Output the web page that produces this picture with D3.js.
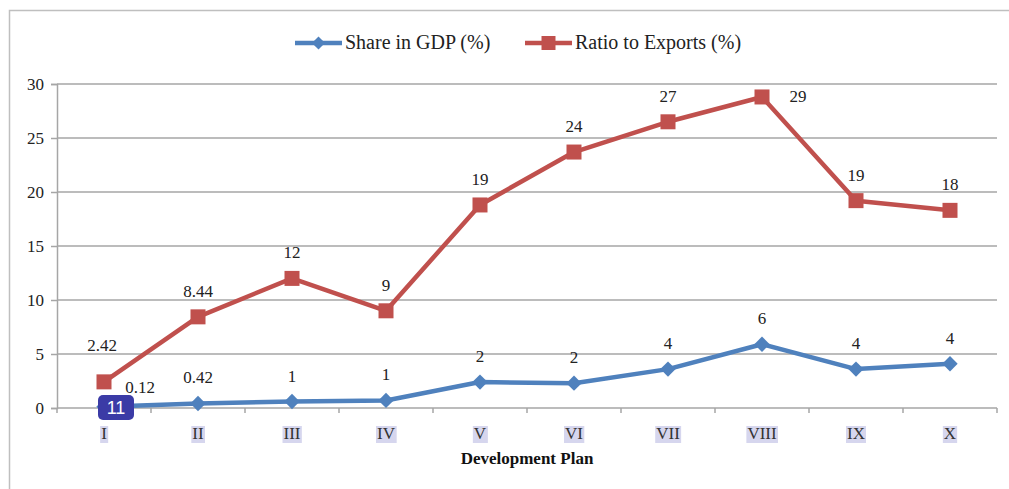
<!DOCTYPE html>
<html>
<head>
<meta charset="utf-8">
<script src="https://cdn.jsdelivr.net/npm/d3@7"></script>
<style>
  body { margin: 0; background: #fff; }
  svg text { font-family: "Liberation Serif", "Times New Roman", Times, "DejaVu Serif", serif !important; fill: #222; }
  svg text.badge { font-family: "Liberation Sans", Arial, sans-serif !important; fill: #fff; }
</style>
</head>
<body>
<svg id="viz" width="1009" height="489"></svg>
<script>
// Development plans and their two series
const plans = ["I", "II", "III", "IV", "V", "VI", "VII", "VIII", "IX", "X"];
const gdpShare = [0.12, 0.42, 0.6, 0.7, 2.4, 2.3, 3.6, 5.9, 3.6, 4.1];
const exportRatio = [2.42, 8.44, 12, 9, 18.8, 23.7, 26.5, 28.8, 19.2, 18.3];
const gdpLabels = ["0.12", "0.42", "1", "1", "2", "2", "4", "6", "4", "4"];
const exportLabels = ["2.42", "8.44", "12", "9", "19", "24", "27", "29", "19", "18"];
const yTicks = [0, 5, 10, 15, 20, 25, 30];

var svg = d3.select("#viz");
var width = +svg.attr("width");
var height = +svg.attr("height");
var margin = {left: 57, right: 12, top: 84, bottom: 81};

var blue = "#4f81bd", red = "#c0504d", grid = "#a6a6a6";

// outer frame (top and left edges visible)
svg.append("path")
    .attr("d", `M9.5,${height} V10.5 H${width}`)
    .attr("fill", "none")
    .attr("stroke", "#bfbfbf")
    .attr("stroke-width", 1.5);

var x = d3.scaleBand()
    .domain(plans)
    .range([margin.left, width - margin.right]);

var y = d3.scaleLinear()
    .domain([0, 30])
    .range([height - margin.bottom, margin.top]);

// gridlines
svg.append("g")
    .selectAll("line")
    .data(yTicks.filter(d => d > 0))
    .enter()
    .append("line")
    .attr("x1", margin.left)
    .attr("x2", width - margin.right)
    .attr("y1", d => y(d))
    .attr("y2", d => y(d))
    .attr("stroke", grid)
    .attr("stroke-width", 1.5);

// y axis
var yAxis = svg.append("g")
    .attr("transform", `translate(${margin.left},0)`)
    .call(d3.axisLeft(y).tickValues(yTicks).tickSize(6).tickPadding(7));
yAxis.attr("font-family", null);
yAxis.select(".domain").attr("stroke", grid).attr("stroke-width", 1.5);
yAxis.selectAll(".tick line").attr("stroke", grid).attr("stroke-width", 1.5);
yAxis.selectAll(".tick text")
    .attr("font-size", 17)
    .attr("fill", "#222");

// x axis with ticks on band boundaries
var bounds = plans.map(p => x(p)).concat([x(plans[plans.length - 1]) + x.bandwidth()]);
var xg = svg.append("g");
xg.append("line")
    .attr("x1", margin.left).attr("x2", width - margin.right)
    .attr("y1", y(0)).attr("y2", y(0))
    .attr("stroke", grid).attr("stroke-width", 1.5);
xg.selectAll("line.tick")
    .data(bounds)
    .enter()
    .append("line")
    .attr("class", "tick")
    .attr("x1", d => d).attr("x2", d => d)
    .attr("y1", y(0)).attr("y2", y(0) + 5)
    .attr("stroke", grid).attr("stroke-width", 1.5);

var xl = xg.selectAll("g.xlab")
    .data(plans)
    .enter()
    .append("g")
    .attr("class", "xlab")
    .attr("transform", d => `translate(${x(d) + x.bandwidth() / 2},${y(0) + 31})`);
xl.append("text")
    .attr("text-anchor", "middle")
    .attr("font-size", 17)
    .style("fill", "#333")
    .text(d => d)
    .each(function () {
        var b = this.getBBox();
        d3.select(this.parentNode).insert("rect", "text")
            .attr("x", b.x - 1).attr("y", b.y + 2)
            .attr("width", b.width + 2).attr("height", b.height - 2)
            .attr("fill", "#d6d6ee");
    });

svg.append("text")
    .attr("x", (margin.left + width - margin.right) / 2)
    .attr("y", 464)
    .attr("text-anchor", "middle")
    .attr("font-size", 17)
    .attr("font-weight", "bold")
    .style("fill", "#111")
    .text("Development Plan");

var line = d3.line()
    .x((d, i) => x(plans[i]) + x.bandwidth() / 2)
    .y(d => y(d));

// export ratio series
svg.append("path")
    .datum(exportRatio)
    .attr("d", line)
    .attr("fill", "none")
    .attr("stroke", red)
    .attr("stroke-width", 4.5)
    .attr("stroke-linejoin", "round");
svg.append("g")
    .selectAll("rect")
    .data(exportRatio)
    .enter()
    .append("rect")
    .attr("x", (d, i) => x(plans[i]) + x.bandwidth() / 2 - 7.5)
    .attr("y", d => y(d) - 7.5)
    .attr("width", 15).attr("height", 15)
    .attr("fill", red);

// gdp share series
svg.append("path")
    .datum(gdpShare)
    .attr("d", line)
    .attr("fill", "none")
    .attr("stroke", blue)
    .attr("stroke-width", 4.5)
    .attr("stroke-linejoin", "round");
svg.append("g")
    .selectAll("path")
    .data(gdpShare)
    .enter()
    .append("path")
    .attr("d", d3.symbol(d3.symbolDiamond2, 150))
    .attr("transform", (d, i) => `translate(${x(plans[i]) + x.bandwidth() / 2},${y(d)})`)
    .attr("fill", blue);

// data labels: default above the point, a few nudged
function labelPos(series, i, kind) {
    var cx = x(plans[i]) + x.bandwidth() / 2, cy = y(series[i]);
    if (kind === "exp" && i === 0) return [cx - 2, cy - 31];
    if (kind === "exp" && i === 7) return [cx + 36, cy + 5];
    if (kind === "gdp" && i === 0) return [cx + 36, cy - 14];
    return [cx, cy - 20];
}
svg.append("g")
    .selectAll("text")
    .data(exportLabels)
    .enter()
    .append("text")
    .attr("text-anchor", "middle")
    .attr("font-size", 17)
    .attr("x", (d, i) => labelPos(exportRatio, i, "exp")[0])
    .attr("y", (d, i) => labelPos(exportRatio, i, "exp")[1])
    .text(d => d);
svg.append("g")
    .selectAll("text")
    .data(gdpLabels)
    .enter()
    .append("text")
    .attr("text-anchor", "middle")
    .attr("font-size", 17)
    .attr("x", (d, i) => labelPos(gdpShare, i, "gdp")[0])
    .attr("y", (d, i) => labelPos(gdpShare, i, "gdp")[1])
    .text(d => d);

// annotation badge over the first plan
var bx = x(plans[0]) + x.bandwidth() / 2 - 6;
var badge = svg.append("g").attr("transform", `translate(${bx},${y(0) - 13})`);
badge.append("rect")
    .attr("width", 36).attr("height", 25).attr("rx", 5)
    .attr("fill", "#3b3ba6");
badge.append("text")
    .attr("class", "badge")
    .attr("x", 18).attr("y", 19)
    .attr("text-anchor", "middle")
    .attr("font-size", 18)
    .text("11");

// legend
var legendItems = [
    {name: "Share in GDP (%)", color: blue, shape: "diamond", x: 295},
    {name: "Ratio to Exports (%)", color: red, shape: "square", x: 525}
];
var legend = svg.append("g").attr("transform", "translate(0,43)");
var li = legend.selectAll("g")
    .data(legendItems)
    .enter()
    .append("g")
    .attr("transform", d => `translate(${d.x},0)`);
li.append("line")
    .attr("x1", 0).attr("x2", 47)
    .attr("stroke", d => d.color)
    .attr("stroke-width", 4.5);
li.append("path")
    .attr("transform", "translate(23.5,0)")
    .attr("d", d => d.shape === "diamond"
        ? d3.symbol(d3.symbolDiamond2, 110)()
        : "M-7,-7H7V7H-7Z")
    .attr("fill", d => d.color);
li.append("text")
    .attr("x", 50)
    .attr("y", 6)
    .attr("font-size", 20)
    .text(d => d.name);
</script>
</body>
</html>
